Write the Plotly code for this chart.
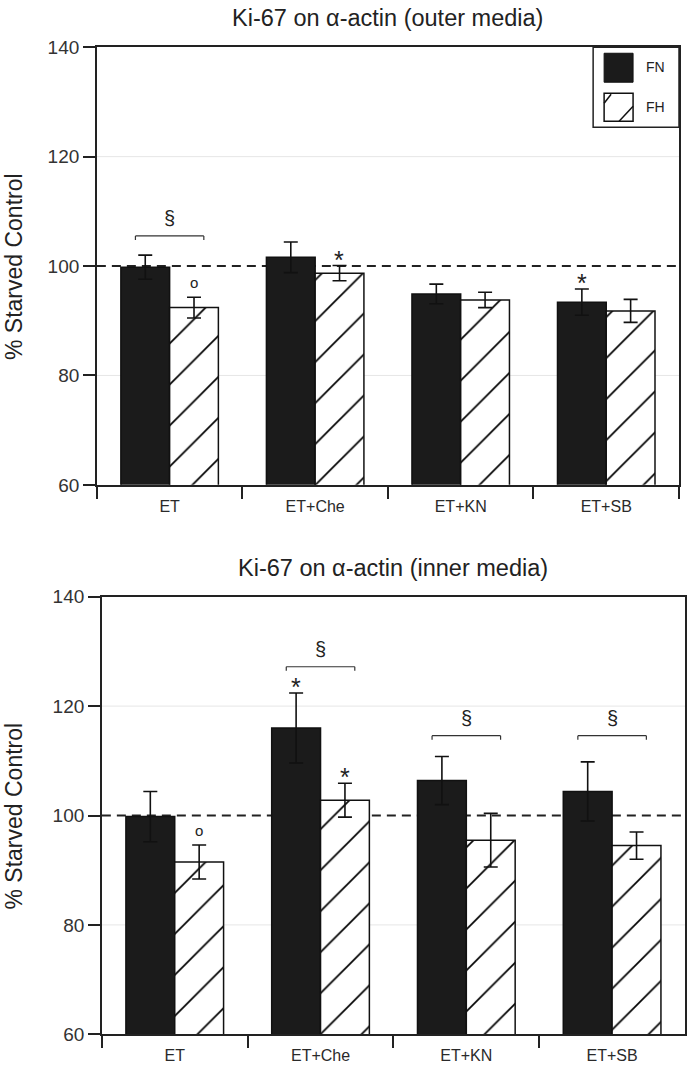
import plotly.graph_objects as go

# ---------------- data ----------------
categories = ["ET", "ET+Che", "ET+KN", "ET+SB"]

outer_fn = [99.8, 101.6, 94.9, 93.4]
outer_fn_err = [2.2, 2.8, 1.8, 2.4]
outer_fh = [92.4, 98.7, 93.8, 91.8]
outer_fh_err = [1.9, 1.4, 1.4, 2.1]

inner_fn = [99.8, 116.0, 106.4, 104.4]
inner_fn_err = [4.6, 6.4, 4.4, 5.4]
inner_fh = [91.5, 102.8, 95.5, 94.5]
inner_fh_err = [3.1, 3.1, 4.9, 2.5]

titles = ["Ki-67 on \u03b1-actin (outer media)", "Ki-67 on \u03b1-actin (inner media)"]
y_ticks = [60, 80, 100, 120, 140]
grid_levels = [80, 120]
reference_level = 100

# significance marks: (category index, series, symbol)
outer_marks = [(0, "FH", "o"), (1, "FH", "*"), (3, "FN", "*")]
inner_marks = [(0, "FH", "o"), (1, "FN", "*"), (1, "FH", "*")]
# brackets: (category index, level)
outer_brackets = [(0, 105.5)]
inner_brackets = [(1, 127.2), (2, 114.6), (3, 114.6)]

# ---------------- layout helpers ----------------
W, H = 687, 1080
SCALE_Y, SHIFT_Y = 0.9815, 9.7   # compensation for the page capture
FONT = "Arial, Liberation Sans, Helvetica, sans-serif"
INK = "#222222"


def fx(p):
    return min(max(p / W, 0.0), 1.0)


def fy(p):
    page = (p - SHIFT_Y) / SCALE_Y
    return min(max(1 - page / H, 0.0), 1.0)


panels = [
    dict(fn=outer_fn, fne=outer_fn_err, fh=outer_fh, fhe=outer_fh_err,
         marks=outer_marks, brackets=outer_brackets,
         x0=97, x1=680, y0=47, y1=485, xa="x", ya="y"),
    dict(fn=inner_fn, fne=inner_fn_err, fh=inner_fh, fhe=inner_fh_err,
         marks=inner_marks, brackets=inner_brackets,
         x0=102, x1=686, y0=597, y1=1035, xa="x2", ya="y2"),
]

fig = go.Figure()
shapes = []
annotations = []
bar_off = 0.167  # centre offset of each bar within its group (category units)

for k, p in enumerate(panels):
    fig.add_trace(go.Bar(
        x=categories, y=p["fn"], name="FN", xaxis=p["xa"], yaxis=p["ya"],
        marker=dict(color="#1b1b1b", line=dict(color="#111111", width=1.5)),
        error_y=dict(type="data", array=p["fne"], visible=True,
                     color="#111111", thickness=1.6, width=7),
        showlegend=False))
    fig.add_trace(go.Bar(
        x=categories, y=p["fh"], name="FH", xaxis=p["xa"], yaxis=p["ya"],
        marker=dict(color="white", line=dict(color="#111111", width=1.5),
                    pattern=dict(shape="/", fgcolor="#000000", bgcolor="white",
                                 fgopacity=1, size=29, solidity=0.06)),
        error_y=dict(type="data", array=p["fhe"], visible=True,
                     color="#111111", thickness=1.6, width=7),
        showlegend=False))

    suffix = "" if k == 0 else "2"
    fig.layout["xaxis" + suffix] = dict(
        domain=[fx(p["x0"]), fx(p["x1"])], anchor="y" + suffix,
        type="category", range=[-0.5, 3.5],
        showline=True, linecolor=INK, linewidth=1.5, mirror=True,
        ticks="outside", tickson="boundaries", ticklen=12, tickwidth=1.5,
        tickcolor=INK, showgrid=False, ticklabelstandoff=6,
        tickfont=dict(family=FONT, size=16, color="#2a2a2a"))
    fig.layout["yaxis" + suffix] = dict(
        domain=[fy(p["y1"]), fy(p["y0"])], anchor="x" + suffix,
        range=[60, 140], tickvals=y_ticks,
        showline=True, linecolor=INK, linewidth=1.5, mirror=True,
        ticks="outside", ticklen=12, tickwidth=1.5, tickcolor=INK,
        showgrid=False, zeroline=False,
        tickfont=dict(family=FONT, size=19, color="#333333"))

    xref = p["xa"]
    yref = p["ya"]
    for g in grid_levels:
        shapes.append(dict(type="line", xref=xref + " domain", yref=yref,
                           x0=0, x1=1, y0=g, y1=g,
                           line=dict(color="#e6e6e6", width=1), layer="below"))
    # dashed reference line
    shapes.append(dict(type="line", xref=xref + " domain", yref=yref,
                       x0=0, x1=1, y0=reference_level, y1=reference_level,
                       line=dict(color=INK, width=2, dash="9px,6px"),
                       layer="below"))

    # significance symbols above error bars
    for (ci, series, sym) in p["marks"]:
        if series == "FN":
            xc = ci - bar_off
            top = p["fn"][ci] + p["fne"][ci]
        else:
            xc = ci + bar_off
            top = p["fh"][ci] + p["fhe"][ci]
        if sym == "*":
            annotations.append(dict(x=xc, y=top, xref=xref, yref=yref,
                                    text="*", showarrow=False, yanchor="middle",
                                    yshift=6, font=dict(family=FONT, size=25, color=INK)))
        else:
            annotations.append(dict(x=xc, y=top, xref=xref, yref=yref,
                                    text="o", showarrow=False, yanchor="middle",
                                    yshift=15, font=dict(family=FONT, size=15, color=INK)))

    # brackets with section sign
    for (ci, lvl) in p["brackets"]:
        xa0, xa1 = ci - 0.235, ci + 0.235
        drop = 0.75
        for seg in [(xa0, lvl - drop, xa0, lvl), (xa0, lvl, xa1, lvl), (xa1, lvl, xa1, lvl - drop)]:
            shapes.append(dict(type="line", xref=xref, yref=yref,
                               x0=seg[0], y0=seg[1], x1=seg[2], y1=seg[3],
                               line=dict(color="#333333", width=1.2)))
        annotations.append(dict(x=ci, y=lvl, xref=xref, yref=yref, text="\u00a7",
                                showarrow=False, yanchor="middle", yshift=18,
                                font=dict(family=FONT, size=20, color=INK)))

    # panel title
    annotations.append(dict(x=fx((p["x0"] + p["x1"]) / 2), y=fy(p["y0"] - 29),
                            xref="paper", yref="paper", text=titles[k],
                            showarrow=False, xanchor="center", yanchor="middle",
                            font=dict(family=FONT, size=23.5, color=INK)))
    # y axis title
    annotations.append(dict(x=fx(14), y=fy((p["y0"] + p["y1"]) / 2),
                            xref="paper", yref="paper", text="% Starved Control",
                            showarrow=False, textangle=-90,
                            xanchor="center", yanchor="middle",
                            font=dict(family=FONT, size=23, color=INK)))

# ---------------- legend (top panel, upper right) ----------------
shapes.append(dict(type="rect", xref="paper", yref="paper",
                   x0=fx(594), x1=fx(680), y0=fy(127), y1=fy(47),
                   line=dict(color=INK, width=1.5), fillcolor="white"))
shapes.append(dict(type="rect", xref="paper", yref="paper",
                   x0=fx(605), x1=fx(634), y0=fy(82), y1=fy(53),
                   line=dict(color="#111111", width=1), fillcolor="#1b1b1b"))
shapes.append(dict(type="rect", xref="paper", yref="paper",
                   x0=fx(605), x1=fx(634), y0=fy(121), y1=fy(93),
                   line=dict(color="#111111", width=1.5), fillcolor="white"))
shapes.append(dict(type="line", xref="paper", yref="paper",
                   x0=fx(605), y0=fy(103), x1=fx(612), y1=fy(94),
                   line=dict(color="#111111", width=1.5)))
shapes.append(dict(type="line", xref="paper", yref="paper",
                   x0=fx(620), y0=fy(121), x1=fx(634), y1=fy(106),
                   line=dict(color="#111111", width=1.5)))
annotations.append(dict(x=fx(656), y=fy(67), xref="paper", yref="paper", text="FN",
                        showarrow=False, xanchor="center", yanchor="middle",
                        font=dict(family=FONT, size=14, color=INK)))
annotations.append(dict(x=fx(656), y=fy(107), xref="paper", yref="paper", text="FH",
                        showarrow=False, xanchor="center", yanchor="middle",
                        font=dict(family=FONT, size=14, color=INK)))

fig.update_layout(
    width=W, height=H,
    margin=dict(l=0, r=0, t=0, b=0),
    paper_bgcolor="white", plot_bgcolor="white",
    barmode="group", bargap=0.33, bargroupgap=0,
    shapes=shapes, annotations=annotations,
    font=dict(family=FONT, color=INK),
    showlegend=False,
)

fig.write_html("out.html", config={"displayModeBar": False, "responsive": False},
               post_script="document.body.style.margin='0';")
